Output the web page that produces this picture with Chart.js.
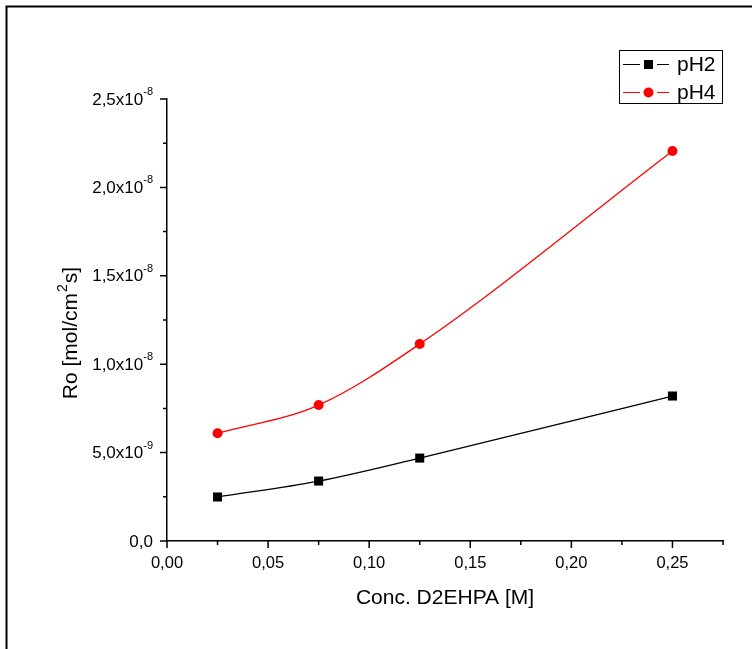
<!DOCTYPE html>
<html>
<head>
<meta charset="utf-8">
<script src="https://cdn.jsdelivr.net/npm/chart.js@4/dist/chart.umd.min.js"></script>
<style>
  body { margin: 0; background: #fff; }
</style>
</head>
<body>
<canvas id="myChart" width="752" height="649"></canvas>
<script>
// datos
const conc = [0.025, 0.075, 0.125, 0.25];
const ph2 = [2.49e-9, 3.39e-9, 4.69e-9, 8.2e-9];
const ph4 = [6.09e-9, 7.69e-9, 1.114e-8, 2.206e-8];
const seriesNames = ['pH2', 'pH4'];

const FONT = "'Liberation Sans', Arial, sans-serif";

function toPoints(xs, ys) {
  return xs.map((x, i) => ({ x: x, y: ys[i] }));
}

// marco exterior, ticks menores, etiquetas del eje y con superindice y leyenda
const extras = {
  id: 'extras',
  afterDraw(chart) {
    const ctx = chart.ctx;
    const xs = chart.scales.x;
    const ys = chart.scales.y;
    ctx.save();
    ctx.strokeStyle = '#000';
    ctx.lineWidth = 2;
    ctx.strokeRect(6.5, 6.5, 900, 900);

    ctx.lineWidth = 1.5;
    ctx.beginPath();
    xs.ticks.forEach(t => {
      const k = Math.round(t.value / 0.025);
      const px = xs.getPixelForValue(t.value);
      const len = k % 2 === 0 ? 7 : 4;
      ctx.moveTo(px, xs.top);
      ctx.lineTo(px, xs.top + len);
    });
    ys.ticks.forEach(t => {
      const k = Math.round(t.value / 2.5e-9);
      const py = ys.getPixelForValue(t.value);
      const len = k % 2 === 0 ? 7 : 4;
      ctx.moveTo(ys.right, py);
      ctx.lineTo(ys.right - len, py);
    });
    ctx.stroke();

    ctx.fillStyle = '#000';
    ctx.textBaseline = 'middle';
    ys.ticks.forEach(t => {
      const k = Math.round(t.value / 2.5e-9);
      if (k % 2 !== 0) return;
      const py = ys.getPixelForValue(t.value) + 1;
      const right = ys.right - 14;
      ctx.textAlign = 'right';
      if (k === 0) {
        ctx.font = '17px ' + FONT;
        ctx.fillText('0,0', right, py);
        return;
      }
      const v = k * 2.5e-9;
      const exp = Math.floor(Math.log10(v) + 1e-9);
      const mant = (v / Math.pow(10, exp)).toFixed(1).replace('.', ',');
      ctx.font = '11px ' + FONT;
      const sup = String(exp);
      const sw = ctx.measureText(sup).width;
      ctx.fillText(sup, right, py - 8);
      ctx.font = '17px ' + FONT;
      ctx.fillText(mant + 'x10', right - sw, py);
    });

    // titulo del eje y con superindice
    ctx.save();
    ctx.translate(71, 0);
    ctx.rotate(-Math.PI / 2);
    const parts = [
      { t: 'Ro [mol/cm', f: '21px ', dy: 0, gap: 1 },
      { t: '2', f: '14px ', dy: -8, gap: 1 },
      { t: 's]', f: '21px ', dy: 0, gap: 0 }
    ];
    let total = 0;
    parts.forEach(p => { ctx.font = p.f + FONT; p.w = ctx.measureText(p.t).width; total += p.w + p.gap; });
    let pos = -(333 + total / 2);
    ctx.textAlign = 'left';
    ctx.textBaseline = 'middle';
    parts.forEach(p => {
      ctx.font = p.f + FONT;
      ctx.fillText(p.t, pos, p.dy);
      pos += p.w + p.gap;
    });
    ctx.restore();

    // leyenda
    ctx.lineWidth = 1;
    ctx.strokeStyle = '#000';
    ctx.strokeRect(619.5, 50.5, 103, 53);
    const rows = [
      { y: 64, color: '#000', shape: 'rect' },
      { y: 92, color: '#ff0000', shape: 'circle' }
    ];
    rows.forEach((r, i) => {
      ctx.strokeStyle = r.color;
      ctx.fillStyle = r.color;
      ctx.lineWidth = 1;
      ctx.beginPath();
      ctx.moveTo(623, r.y + 0.5);
      ctx.lineTo(640, r.y + 0.5);
      ctx.moveTo(657, r.y + 0.5);
      ctx.lineTo(669, r.y + 0.5);
      ctx.stroke();
      ctx.beginPath();
      if (r.shape === 'rect') {
        ctx.rect(644, r.y - 4, 9, 9);
      } else {
        ctx.arc(648.5, r.y + 0.5, 5, 0, Math.PI * 2);
      }
      ctx.fill();
      ctx.fillStyle = '#000';
      ctx.font = '21px ' + FONT;
      ctx.textAlign = 'left';
      ctx.textBaseline = 'middle';
      ctx.fillText(seriesNames[i], 677, r.y + 1);
    });
    ctx.restore();
  }
};

const data = {
  datasets: [
    {
      label: seriesNames[0],
      data: toPoints(conc, ph2),
      borderColor: '#000',
      backgroundColor: '#000',
      borderWidth: 1.3,
      pointStyle: 'rect',
      pointRadius: 6.4,
      pointBorderWidth: 0,
      cubicInterpolationMode: 'monotone'
    },
    {
      label: seriesNames[1],
      data: toPoints(conc, ph4),
      borderColor: '#ff0000',
      backgroundColor: '#ff0000',
      borderWidth: 1.3,
      pointStyle: 'circle',
      pointRadius: 5,
      pointBorderWidth: 0,
      cubicInterpolationMode: 'monotone'
    }
  ]
};

const config = {
  type: 'line',
  data: data,
  options: {
    responsive: false,
    animation: false,
    devicePixelRatio: 1,
    layout: { padding: { left: 61, top: 99, right: 29, bottom: 38 } },
    plugins: {
      legend: { display: false },
      tooltip: { enabled: false }
    },
    scales: {
      x: {
        type: 'linear',
        min: 0,
        max: 0.275,
        afterFit: s => { s.height = 70; },
        grid: { display: false },
        border: { display: true, color: '#000', width: 1.5 },
        ticks: {
          stepSize: 0.025,
          autoSkip: false,
          maxRotation: 0,
          padding: 5,
          color: '#000',
          font: { family: FONT, size: 16.5 },
          callback: v => {
            const k = Math.round(v / 0.025);
            return k % 2 === 0 ? (k * 0.025).toFixed(2).replace('.', ',') : '';
          }
        },
        title: {
          display: true,
          text: 'Conc. D2EHPA [M]',
          color: '#000',
          padding: 0,
          font: { family: FONT, size: 21 }
        }
      },
      y: {
        type: 'linear',
        min: 0,
        max: 2.5e-8,
        afterFit: s => { s.width = 106; },
        grid: { display: false },
        border: { display: true, color: '#000', width: 1.5 },
        ticks: {
          stepSize: 2.5e-9,
          autoSkip: false,
          color: 'rgba(0,0,0,0)',
          callback: v => ''
        },
        title: { display: false }
      }
    }
  },
  plugins: [extras]
};

const myChart = new Chart(document.getElementById('myChart'), config);
</script>
</body>
</html>
